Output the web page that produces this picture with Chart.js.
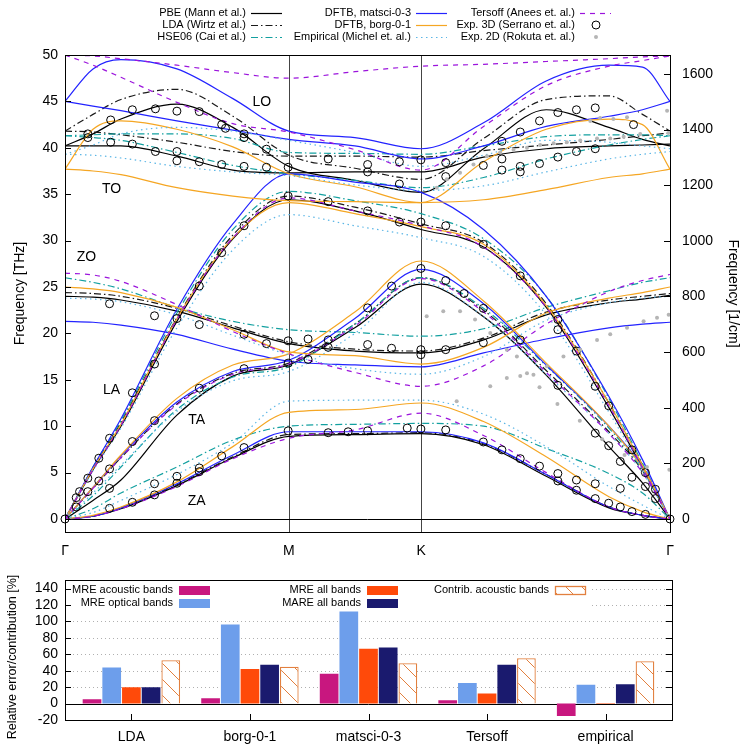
<!DOCTYPE html>
<html>
<head>
<meta charset="utf-8">
<script src="https://cdn.jsdelivr.net/npm/chart.js@4.4.1/dist/chart.umd.min.js"></script>
<style>
  html, body { margin: 0; padding: 0; background: #fff; }
  #wrap { position: relative; width: 750px; height: 750px; }
  #top { position: absolute; left: 0; top: 0; width: 750px; height: 565px; }
  #bot { position: absolute; left: 0; top: 565px; width: 750px; height: 185px; }
</style>
</head>
<body>
<div id="wrap">
  <canvas id="top" width="750" height="565"></canvas>
  <canvas id="bot" width="750" height="185"></canvas>
</div>
<script>
// ── Phonon dispersion: k-path and band frequencies [THz] ────────────
const kPath = [0, 0.125, 0.25, 0.5, 0.75, 1, 1.295, 1.591, 1.87, 2.15, 2.43, 2.58, 2.703];
const kTicks = [0, 1, 1.591, 2.703];
const kLabels = ['Γ', 'M', 'K', 'Γ'];
const THZ_TO_CM = 33.356;

// band order: ZA, TA, LA, ZO, TO, LO
const pbe = [
  [0, 0.3, 1.1, 3.6, 6.6, 8.9, 9.1, 9.2, 8.0, 4.6, 1.2, 0.4, 0],
  [0, 2.0, 4.2, 11.2, 15.4, 16.6, 20.6, 25.3, 21.8, 15.5, 7.8, 3.9, 0],
  [0, 5.3, 10.0, 21.3, 30.2, 34.4, 33.2, 31.2, 29.3, 22.8, 12.0, 5.5, 0],
  [24.0, 23.9, 23.6, 22.4, 20.6, 18.9, 18.1, 17.9, 19.3, 22.0, 23.3, 23.7, 24.1],
  [40.2, 40.2, 40.2, 39.1, 37.6, 37.3, 37.4, 37.4, 39.0, 39.9, 40.2, 40.3, 40.4],
  [40.2, 41.5, 43.1, 44.7, 42.2, 38.0, 36.5, 35.2, 39.9, 44.1, 42.2, 40.9, 40.2],
];
const lda = [
  [0, 0.3, 1.2, 3.7, 6.7, 9.1, 9.2, 9.3, 8.1, 4.8, 1.3, 0.4, 0],
  [0, 3.3, 6.6, 12.4, 15.7, 16.8, 21.0, 26.0, 22.5, 16.0, 9.4, 5.2, 0],
  [0, 5.5, 10.4, 21.7, 30.6, 34.8, 33.6, 31.8, 29.8, 23.2, 12.5, 5.8, 0],
  [24.4, 24.3, 24.0, 22.7, 20.8, 19.1, 18.3, 18.1, 19.5, 22.3, 23.6, 24.0, 24.3],
  [41.8, 41.7, 41.4, 40.6, 39.6, 39.1, 39.1, 39.0, 39.7, 40.3, 40.9, 41.3, 41.6],
  [41.8, 43.6, 45.2, 46.3, 43.4, 39.2, 37.8, 36.6, 41.0, 45.2, 45.6, 43.6, 41.8],
];
const hse06 = [
  [0, 1.1, 2.8, 5.6, 8.5, 10.0, 10.2, 10.3, 10.0, 7.6, 4.9, 2.8, 0],
  [0, 2.5, 5.6, 11.8, 15.3, 16.4, 21.0, 26.0, 22.7, 16.5, 9.8, 5.3, 0],
  [0, 5.6, 10.6, 22.2, 31.2, 35.3, 34.3, 32.9, 30.2, 24.0, 13.0, 6.0, 0],
  [26.0, 25.5, 24.8, 22.8, 21.3, 20.4, 20.1, 19.7, 20.5, 22.8, 24.6, 25.5, 26.0],
  [41.3, 41.1, 40.8, 39.5, 38.1, 37.2, 36.5, 35.7, 36.8, 38.8, 40.3, 40.9, 41.3],
  [41.3, 41.4, 41.5, 41.5, 41.0, 39.5, 39.4, 39.3, 40.2, 41.2, 41.4, 41.4, 41.3],
];
const matsci = [
  [0, 0.3, 1.2, 3.8, 6.9, 9.4, 9.4, 9.4, 8.2, 4.8, 1.3, 0.4, 0],
  [0, 3.4, 6.8, 12.6, 15.9, 17.1, 21.6, 26.9, 23.2, 16.6, 10.0, 5.6, 0],
  [0, 5.6, 10.8, 22.6, 31.8, 37.2, 36.3, 35.2, 31.2, 24.0, 13.2, 6.4, 0],
  [21.3, 21.2, 20.9, 19.9, 18.3, 17.0, 16.6, 16.4, 17.9, 19.4, 20.6, 21.0, 21.2],
  [45.0, 44.5, 44.0, 42.9, 41.9, 40.9, 40.2, 38.8, 40.2, 42.3, 43.4, 44.1, 45.0],
  [45.0, 48.5, 49.5, 48.5, 45.3, 41.8, 41.1, 39.9, 42.7, 47.2, 48.9, 48.7, 45.0],
];
const borg = [
  [0, 0.4, 1.3, 4.0, 7.8, 11.5, 11.8, 12.5, 10.5, 6.7, 2.4, 0.8, 0],
  [0, 3.4, 6.9, 13.0, 16.6, 17.8, 22.3, 27.8, 23.5, 16.8, 10.0, 5.5, 0],
  [0, 5.4, 10.2, 21.6, 30.3, 34.1, 32.9, 31.5, 29.6, 23.0, 12.5, 5.8, 0],
  [25.0, 24.8, 24.4, 22.8, 20.4, 18.0, 17.6, 16.7, 18.5, 22.2, 23.8, 24.4, 25.0],
  [37.7, 37.5, 37.1, 35.7, 34.8, 34.3, 34.2, 34.1, 34.4, 35.5, 36.8, 37.2, 37.7],
  [37.7, 42.0, 42.9, 42.0, 40.1, 37.2, 35.8, 34.1, 38.5, 42.0, 43.1, 42.5, 37.7],
];
const empirical = [
  [0, 0.7, 2.0, 4.8, 8.2, 12.7, 12.8, 12.8, 11.3, 7.8, 3.5, 1.5, 0],
  [0, 2.8, 5.8, 11.6, 14.9, 15.9, 20.0, 25.5, 21.8, 15.6, 9.2, 5.0, 0],
  [0, 5.2, 9.8, 20.6, 29.0, 32.8, 31.6, 30.3, 28.3, 22.0, 11.5, 5.3, 0],
  [23.8, 23.7, 23.4, 22.0, 19.8, 17.7, 16.2, 15.6, 17.5, 21.4, 23.3, 23.8, 24.0],
  [39.3, 39.2, 38.9, 38.0, 37.4, 37.0, 36.0, 35.4, 35.9, 37.4, 38.8, 39.3, 39.6],
  [39.3, 40.3, 41.5, 42.2, 41.8, 40.8, 39.5, 38.0, 39.2, 40.8, 40.6, 40.2, 39.9],
];
const tersoff = [
  [0, 0.3, 1.1, 3.5, 6.5, 8.7, 9.6, 11.4, 9.0, 5.0, 1.3, 0.4, 0],
  [0, 3.3, 6.6, 12.3, 15.6, 16.7, 20.8, 25.9, 22.3, 15.8, 9.2, 5.0, 0],
  [0, 5.3, 10.1, 21.5, 30.3, 34.6, 33.2, 31.6, 29.3, 22.8, 12.2, 5.5, 0],
  [26.5, 26.3, 25.6, 23.1, 20.2, 17.8, 15.8, 14.3, 16.5, 21.0, 24.5, 25.7, 26.35],
  [50.0, 48.9, 47.6, 44.9, 42.6, 41.7, 39.8, 37.6, 42.3, 46.7, 48.8, 49.4, 49.9],
  [50.0, 49.9, 49.6, 48.9, 48.1, 47.5, 48.2, 48.8, 49.0, 49.3, 49.6, 49.8, 49.9],
];

// experiment, [k, THz]
const exp3D = [
  [0, 0], [0.05, 2.3], [0.05, 1.3], [0.065, 2.95], [0.102, 4.4], [0.102, 2.95], [0.102, 41.5], [0.102, 41.1],
  [0.151, 6.55], [0.151, 4.1],
  [0.199, 8.7], [0.199, 5.4], [0.199, 3.3], [0.199, 1.15], [0.199, 23.2], [0.204, 43.0], [0.204, 40.6],
  [0.301, 13.6], [0.301, 8.35], [0.301, 1.8], [0.301, 44.1], [0.301, 40.4],
  [0.40, 16.7], [0.40, 10.6], [0.40, 3.8], [0.40, 2.6], [0.40, 21.9], [0.404, 44.2], [0.404, 39.6],
  [0.50, 21.6], [0.50, 4.6], [0.50, 3.85], [0.50, 43.95], [0.50, 39.6], [0.50, 38.6],
  [0.60, 25.1], [0.60, 14.1], [0.60, 5.5], [0.60, 5.1], [0.60, 20.95], [0.60, 43.9], [0.60, 38.5],
  [0.70, 28.7], [0.70, 6.8], [0.70, 42.5], [0.717, 42.1], [0.70, 38.2],
  [0.80, 31.6], [0.80, 16.2], [0.80, 7.7], [0.80, 19.9], [0.80, 41.5], [0.80, 41.1], [0.80, 38.0],
  [0.90, 18.9], [0.90, 39.85], [0.90, 37.9],
  [0.997, 37.9], [0.997, 34.8], [0.997, 19.2], [0.997, 16.8], [0.997, 9.5],
  [1.086, 19.4], [1.086, 17.2],
  [1.176, 38.8], [1.176, 34.2], [1.176, 19.3], [1.176, 18.5], [1.176, 9.3],
  [1.265, 9.4],
  [1.352, 38.2], [1.352, 37.4], [1.352, 33.2], [1.352, 22.75], [1.352, 18.8], [1.352, 9.5],
  [1.459, 25.1], [1.459, 18.4],
  [1.494, 38.5], [1.494, 36.1], [1.494, 32.0], [1.529, 9.8],
  [1.59, 38.7], [1.59, 32.0], [1.59, 27.0], [1.59, 18.25], [1.59, 17.7], [1.59, 9.7],
  [1.701, 38.4], [1.701, 36.9], [1.701, 31.6], [1.701, 25.7], [1.701, 18.25], [1.701, 9.6],
  [1.783, 24.3],
  [1.869, 38.1], [1.869, 29.6], [1.869, 22.7], [1.869, 19.0], [1.869, 8.3],
  [1.952, 40.7], [1.952, 38.8], [1.952, 37.6], [1.952, 7.45],
  [2.034, 41.7], [2.034, 38.0], [2.034, 37.4], [2.034, 26.2], [2.034, 19.3], [2.034, 6.5],
  [2.12, 42.9], [2.12, 38.3], [2.12, 5.7],
  [2.202, 43.8], [2.202, 39.0], [2.202, 21.5], [2.202, 20.4], [2.202, 14.4], [2.202, 4.9], [2.202, 4.1],
  [2.285, 44.1], [2.285, 39.6], [2.285, 18.1], [2.285, 4.2], [2.285, 3.1],
  [2.369, 44.3], [2.369, 39.9], [2.369, 14.3], [2.369, 9.25], [2.369, 3.8], [2.369, 2.2],
  [2.429, 12.2], [2.429, 7.9], [2.429, 1.7],
  [2.481, 6.2], [2.481, 3.3], [2.481, 1.3],
  [2.533, 7.45], [2.533, 4.5], [2.533, 0.8], [2.54, 42.5],
  [2.593, 5.0], [2.593, 3.5], [2.593, 0.5],
  [2.638, 3.2], [2.638, 2.2],
  [2.703, 0],
];
const exp2D = [
  [1.661, 35.7], [1.706, 36.6], [1.765, 37.3], [1.825, 38.2], [1.885, 39.1], [1.944, 39.5], [2.004, 39.8],
  [2.064, 40.0], [2.123, 40.3], [2.183, 40.5], [2.242, 40.6], [2.302, 40.8], [2.377, 41.0], [2.436, 41.0],
  [2.496, 41.2], [2.57, 41.5], [2.696, 41.6],
  [2.347, 42.9], [2.391, 43.2], [2.45, 43.1], [2.511, 43.3], [2.69, 44.0],
  [1.616, 21.85], [1.69, 22.4], [1.765, 22.4], [1.832, 21.5], [1.9, 20.05], [1.974, 18.25], [2.019, 17.5],
  [2.064, 15.7], [2.12, 14.2], [2.2, 12.4], [2.3, 10.6], [2.4, 8.6], [2.5, 6.9], [2.6, 5.6], [2.7, 5.3],
  [1.75, 12.7], [1.9, 14.3], [1.974, 15.2], [2.034, 15.4], [2.093, 15.55], [2.153, 16.45], [2.227, 17.5],
  [2.302, 18.25], [2.377, 19.3], [2.436, 19.9], [2.511, 20.6], [2.585, 21.3], [2.645, 21.7], [2.697, 22.0],
];

// band labels
const bandNames = ['LO', 'TO', 'ZO', 'LA', 'TA', 'ZA'];
const bandNameK = [0.879, 0.208, 0.096, 0.208, 0.588, 0.588];
const bandNameF = [44.9, 35.5, 28.2, 13.9, 10.7, 1.9];

// ── Error bars ───────────────────────────────────────────────────
const methods = ['LDA', 'borg-0-1', 'matsci-0-3', 'Tersoff', 'empirical'];
const mreAcoustic = [5.2, 6.4, 36.4, 4.0, -15.2];
const mreOptical = [44, 96.4, 112, 25.2, 22.8];
const mreAll = [20, 42, 66.8, 12.4, -0.6];
const mareAll = [20, 47.2, 68.4, 47.2, 23.6];
const contribAcoustic = [52.8, 44.8, 49.2, 55.2, 51.6];
const errTicks = [-20, 0, 20, 40, 60, 80, 100, 120, 140];

// ── Styling ──────────────────────────────────────────────────────
const FONT = "'Liberation Sans', Arial, Helvetica, sans-serif";
Chart.defaults.font.family = FONT;
Chart.defaults.color = '#000';
Chart.defaults.animation = false;

const DASHDOT = [7, 3, 1.5, 3];
const MODELS = [
  { label: 'PBE (Mann et al.)', bands: pbe, color: '#000000', dash: [] },
  { label: 'LDA (Wirtz et al.)', bands: lda, color: '#1a1a1a', dash: DASHDOT },
  { label: 'HSE06 (Cai et al.)', bands: hse06, color: '#13a0a0', dash: DASHDOT },
  { label: 'DFTB, matsci-0-3', bands: matsci, color: '#2323ff', dash: [] },
  { label: 'DFTB, borg-0-1', bands: borg, color: '#f5a623', dash: [] },
  { label: 'Empirical (Michel et. al.)', bands: empirical, color: '#5bb6e6', dash: [1.5, 3.5] },
  { label: 'Tersoff (Anees et. al.)', bands: tersoff, color: '#9b14dc', dash: [5, 5] },
];

const lineSets = [];
MODELS.forEach(m => {
  m.bands.forEach(vals => {
    lineSets.push({
      data: vals.map((v, i) => ({ x: kPath[i], y: v })),
      borderColor: m.color,
      borderDash: m.dash,
      borderWidth: 1.2,
      pointRadius: 0,
      fill: false,
      cubicInterpolationMode: 'monotone',
    });
  });
});
lineSets.push({
  data: exp3D.map(p => ({ x: p[0], y: p[1] })),
  showLine: false, pointRadius: 4, pointBorderWidth: 1,
  pointBorderColor: '#000', pointBackgroundColor: 'rgba(0,0,0,0)', clip: false,
});
lineSets.push({
  data: exp2D.map(p => ({ x: p[0], y: p[1] })),
  showLine: false, pointRadius: 2, pointBorderWidth: 0,
  pointBackgroundColor: '#b5b5b5', pointBorderColor: '#b5b5b5', clip: false,
});
// later entries drawn on top, like gnuplot
lineSets.reverse();

function hline(ctx, x0, y0, x1, y1) {
  ctx.beginPath(); ctx.moveTo(x0, y0); ctx.lineTo(x1, y1); ctx.stroke();
}

const topDecor = {
  id: 'topDecor',
  beforeDatasetsDraw(chart) {
    const { ctx, chartArea: a, scales: { x, y } } = chart;
    ctx.save();
    ctx.strokeStyle = '#444';
    ctx.lineWidth = 1;
    [kTicks[1], kTicks[2]].forEach(k => {
      const px = Math.round(x.getPixelForValue(k)) + 0.5;
      hline(ctx, px, a.top, px, a.bottom);
    });
    ctx.strokeStyle = '#000';
    const py = Math.round(y.getPixelForValue(0)) + 0.5;
    hline(ctx, a.left, py, a.right, py);
    ctx.restore();
  },
  afterDraw(chart) {
    const { ctx, chartArea: a, scales: { x, y, y2 } } = chart;
    ctx.save();
    ctx.strokeStyle = '#000';
    ctx.lineWidth = 1;
    ctx.strokeRect(Math.round(a.left) + 0.5, Math.round(a.top) + 0.5,
      Math.round(a.right - a.left), Math.round(a.bottom - a.top));
    y.ticks.forEach(t => {
      const py = Math.round(y.getPixelForValue(t.value)) + 0.5;
      hline(ctx, a.left, py, a.left + 6, py);
    });
    y2.ticks.forEach(t => {
      const py = Math.round(y2.getPixelForValue(t.value)) + 0.5;
      hline(ctx, a.right - 6, py, a.right, py);
    });
    // band names
    ctx.fillStyle = '#000';
    ctx.font = '14px ' + FONT;
    ctx.textAlign = 'center';
    ctx.textBaseline = 'middle';
    bandNames.forEach((n, i) => {
      ctx.fillText(n, x.getPixelForValue(bandNameK[i]), y.getPixelForValue(bandNameF[i]));
    });
    // legend, gnuplot style: text right-aligned, sample on the right
    const cols = [246, 411, 575];
    const rows = [13, 25, 37];
    const entries = MODELS.map(m => ({ label: m.label, color: m.color, dash: m.dash, kind: 'line' }));
    entries.push({ label: 'Exp. 3D (Serrano et. al.)', kind: 'circle' });
    entries.push({ label: 'Exp. 2D (Rokuta et. al.)', kind: 'dot' });
    ctx.font = '11px ' + FONT;
    ctx.textAlign = 'right';
    entries.forEach((e, i) => {
      const cx = cols[Math.floor(i / 3)], cy = rows[i % 3];
      ctx.fillStyle = '#000';
      ctx.fillText(e.label, cx, cy);
      if (e.kind === 'line') {
        ctx.strokeStyle = e.color; ctx.lineWidth = 1.2; ctx.setLineDash(e.dash);
        hline(ctx, cx + 5, cy + 0.5, cx + 36, cy + 0.5);
        ctx.setLineDash([]);
      } else if (e.kind === 'circle') {
        ctx.strokeStyle = '#000'; ctx.lineWidth = 1;
        ctx.beginPath(); ctx.arc(cx + 21, cy, 4, 0, Math.PI * 2); ctx.stroke();
      } else {
        ctx.fillStyle = '#b5b5b5';
        ctx.beginPath(); ctx.arc(cx + 21, cy, 2, 0, Math.PI * 2); ctx.fill();
      }
    });
    ctx.restore();
  },
};

new Chart(document.getElementById('top'), {
  type: 'line',
  data: { datasets: lineSets },
  options: {
    responsive: false,
    animation: false,
    layout: { padding: { top: 55, left: 0, right: 0, bottom: 0 } },
    plugins: { legend: { display: false }, tooltip: { enabled: false } },
    events: [],
    scales: {
      x: {
        type: 'linear', min: 0, max: kTicks[3],
        grid: { display: false, drawTicks: false },
        border: { display: false },
        afterBuildTicks: s => { s.ticks = kTicks.map(v => ({ value: v })); },
        ticks: { padding: 11, font: { size: 14 }, autoSkip: false, callback: (v, i) => kLabels[i] },
        afterFit: s => { s.height = 33; },
      },
      y: {
        position: 'left', min: -1.4, max: 50,
        grid: { display: false, drawTicks: false },
        border: { display: false },
        ticks: { stepSize: 5, includeBounds: false, autoSkip: false, padding: 7, font: { size: 14 },
          callback: v => String(v) },
        title: { display: true, text: 'Frequency [THz]', font: { size: 14 }, padding: { top: 12, bottom: 0 } },
        afterFit: s => { s.width = 65; },
      },
      y2: {
        position: 'right', min: -1.4 * THZ_TO_CM, max: 50 * THZ_TO_CM,
        grid: { display: false, drawTicks: false },
        border: { display: false },
        ticks: { stepSize: 200, includeBounds: false, autoSkip: false, padding: 12, font: { size: 14 },
          callback: v => String(Math.round(v)) },
        title: { display: true, text: 'Frequency [1/cm]', font: { size: 14 }, padding: { top: 9, bottom: 0 } },
        afterFit: s => { s.width = 80; },
      },
    },
  },
  plugins: [topDecor],
});

// ── Bottom bar chart ─────────────────────────────────────────────
const HATCH = '#e2803f';
function hatchPattern() {
  const s = 16;
  const c = document.createElement('canvas');
  c.width = s; c.height = s;
  const g = c.getContext('2d');
  g.fillStyle = '#fff'; g.fillRect(0, 0, s, s);
  g.strokeStyle = HATCH; g.lineWidth = 1;
  g.beginPath();
  g.moveTo(-2, -2); g.lineTo(s + 2, s + 2);
  g.stroke();
  return g.createPattern(c, 'repeat');
}
const hatch = hatchPattern();

const BARS = [
  { label: 'MRE acoustic bands', vals: mreAcoustic, color: '#c8177f' },
  { label: 'MRE optical bands', vals: mreOptical, color: '#6d9eeb' },
  { label: 'MRE all bands', vals: mreAll, color: '#ff4a0a' },
  { label: 'MARE all bands', vals: mareAll, color: '#1a1a6e' },
  { label: 'Contrib. acoustic bands', vals: contribAcoustic, color: hatch, border: HATCH },
];

const barSets = BARS.map(b => ({
  label: b.label,
  data: b.vals.map((v, i) => ({ x: i, y: v })),
  backgroundColor: b.color,
  borderColor: b.border || b.color,
  borderWidth: b.border ? 1.3 : 0,
  categoryPercentage: 0.83,
  barPercentage: 0.95,
}));

const botDecor = {
  id: 'botDecor',
  beforeDatasetsDraw(chart) {
    const { ctx, chartArea: a, scales: { y } } = chart;
    ctx.save();
    ctx.strokeStyle = '#b0b0b0';
    ctx.lineWidth = 1;
    ctx.setLineDash([1, 3]);
    errTicks.forEach(v => {
      if (v <= 0) return;
      const py = Math.round(y.getPixelForValue(v)) + 0.5;
      const x0 = v >= 120 ? 592 : a.left;
      hline(ctx, x0, py, a.right, py);
    });
    ctx.setLineDash([]);
    ctx.strokeStyle = '#000';
    const py0 = Math.round(y.getPixelForValue(0)) + 0.5;
    hline(ctx, a.left, py0, a.right, py0);
    ctx.restore();
  },
  afterDraw(chart) {
    const { ctx, chartArea: a, scales: { x, y } } = chart;
    ctx.save();
    ctx.strokeStyle = '#000';
    ctx.lineWidth = 1;
    ctx.strokeRect(Math.round(a.left) + 0.5, Math.round(a.top) + 0.5,
      Math.round(a.right - a.left), Math.round(a.bottom - a.top));
    errTicks.forEach(v => {
      const py = Math.round(y.getPixelForValue(v)) + 0.5;
      hline(ctx, a.left, py, a.left + 6, py);
      hline(ctx, a.right - 6, py, a.right, py);
    });
    methods.forEach((m, i) => {
      const px = Math.round(x.getPixelForValue(i)) + 0.5;
      hline(ctx, px, a.bottom, px, a.bottom - 6);
    });
    // y title
    ctx.fillStyle = '#000';
    ctx.font = '12.5px ' + FONT;
    ctx.textAlign = 'center';
    ctx.textBaseline = 'middle';
    ctx.translate(13, 92);
    ctx.rotate(-Math.PI / 2);
    ctx.fillText('Relative error/contribution [%]', 0, 0);
    ctx.setTransform(1, 0, 0, 1, 0, 0);
    // legend
    const cols = [173, 361, 549];
    const rows = [25, 38];
    const slot = [[0, 0], [0, 1], [1, 0], [1, 1], [2, 0]];
    ctx.font = '11px ' + FONT;
    ctx.textAlign = 'right';
    BARS.forEach((b, i) => {
      const cx = cols[slot[i][0]], cy = rows[slot[i][1]];
      ctx.fillStyle = '#000';
      ctx.fillText(b.label, cx, cy);
      ctx.fillStyle = b.color;
      ctx.fillRect(cx + 6, cy - 4, 31, 9);
      if (b.border) {
        ctx.strokeStyle = b.border; ctx.lineWidth = 1.3;
        ctx.strokeRect(cx + 6.5, cy - 3.5, 30, 8);
      }
    });
    ctx.restore();
  },
};

new Chart(document.getElementById('bot'), {
  type: 'bar',
  data: { datasets: barSets },
  options: {
    responsive: false,
    animation: false,
    layout: { padding: { top: 15, left: 0, right: 78, bottom: 0 } },
    plugins: { legend: { display: false }, tooltip: { enabled: false } },
    events: [],
    scales: {
      x: {
        type: 'linear', min: -0.56, max: 4.56, offset: false,
        grid: { display: false, drawTicks: false },
        border: { display: false },
        afterBuildTicks: s => { s.ticks = methods.map((m, i) => ({ value: i })); },
        ticks: { padding: 9, font: { size: 14 }, autoSkip: false, maxRotation: 0, callback: (v) => methods[v] },
        afterFit: s => { s.height = 30; },
      },
      y: {
        min: -20, max: 150,
        grid: { display: false, drawTicks: false },
        border: { display: false },
        afterBuildTicks: s => { s.ticks = errTicks.map(v => ({ value: v })); },
        ticks: { padding: 7, font: { size: 14 }, autoSkip: false, callback: v => String(v) },
        afterFit: s => { s.width = 65; },
      },
    },
  },
  plugins: [botDecor],
});
</script>
</body>
</html>
